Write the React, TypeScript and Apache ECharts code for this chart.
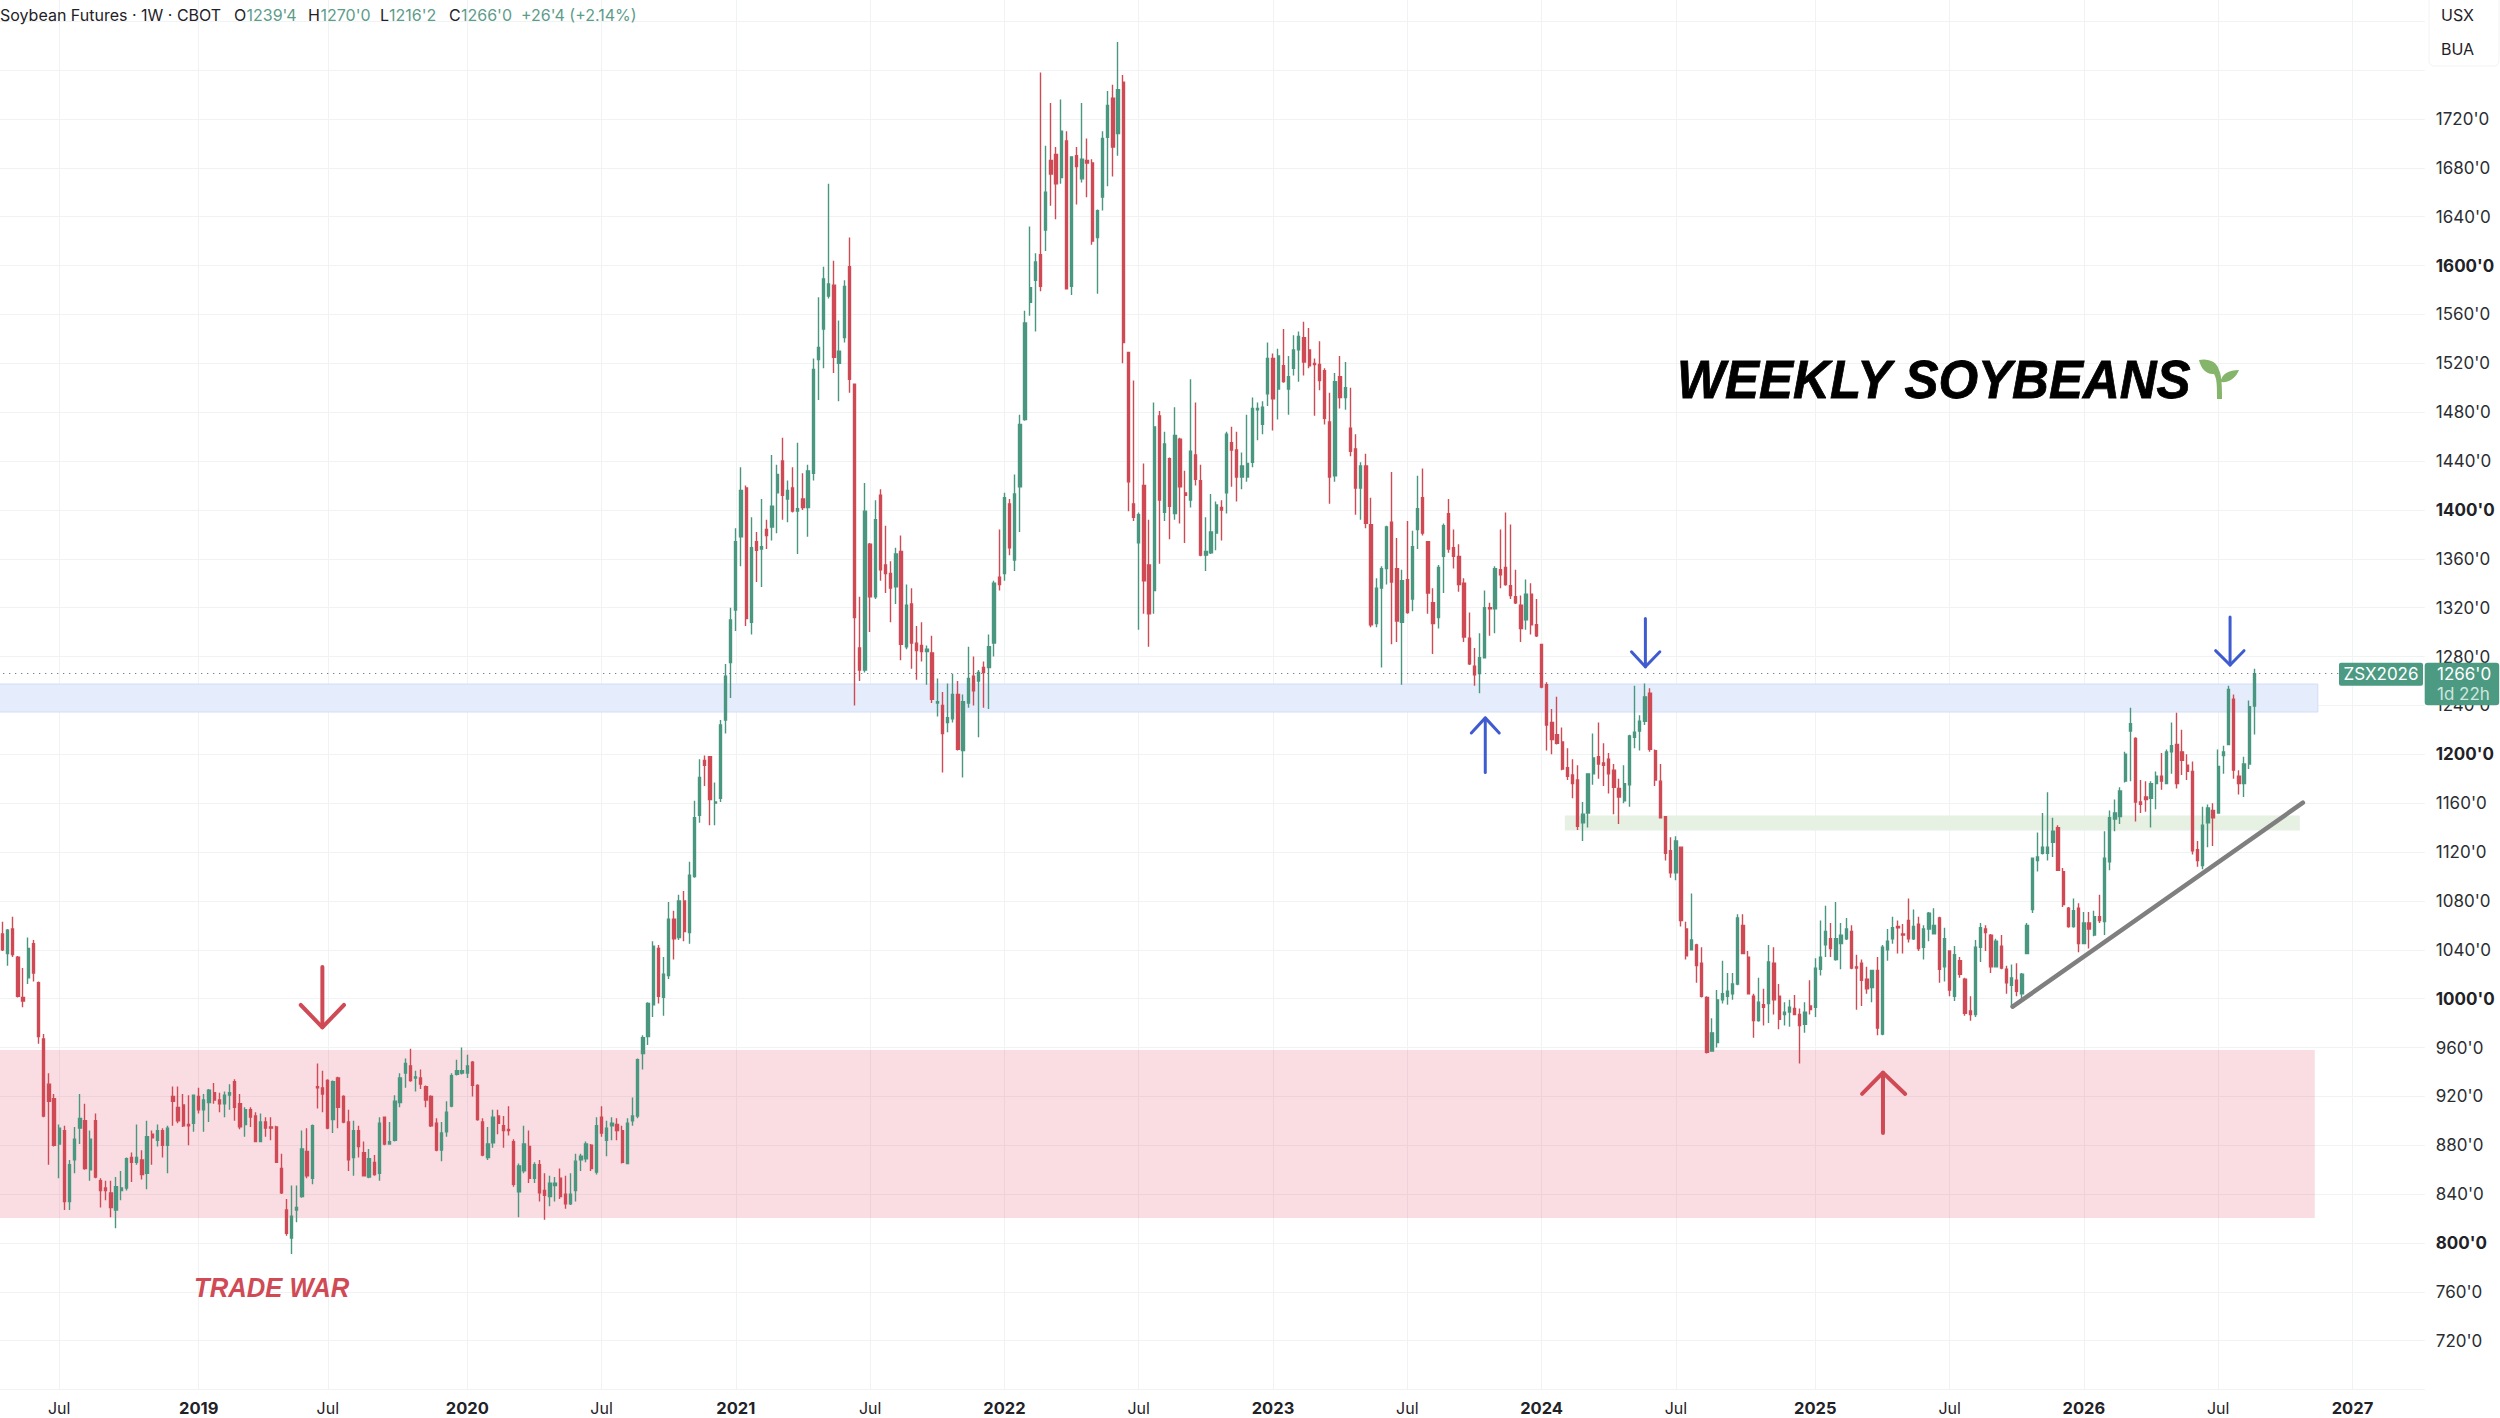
import React, { useEffect, useRef } from "react";
import * as echarts from "echarts";

// every row: [rising?1:0, high, bodyTop, bodyBottom, low]
const bars2018 = [
[0,1063,1053,1040,1039],[1,1057,1056,1037,1027],[0,1067,1057,1036,1034],[0,1035,1034,1002,1001],[0,1025,1001,998,993],
[1,1050,1041,1017,1012],[0,1048,1045,1021,1014],[0,1014,1013,969,963],[0,971,967,904,903],[0,939,930,916,864],
[0,922,918,880,879],[1,897,894,881,853],[0,896,892,834,827],[1,868,864,834,827],[1,895,885,868,857],
[1,922,902,894,881],[0,914,900,861,860],[1,892,885,860,851],[0,906,900,854,853],[0,853,851,843,829],
[0,851,845,843,835],[0,851,841,829,821],[1,854,846,827,812],[1,859,845,843,835],[1,870,869,845,843],
[0,874,870,866,850],[1,897,870,866,864],[0,876,868,856,852],[1,900,887,857,844],[0,892,889,886,864],
[1,897,892,884,879],[0,894,892,880,870],[1,896,894,880,857],[0,928,920,916,896],[0,928,911,900,898],
[0,922,913,896,895],[0,921,897,896,880],[1,921,921,898,891],[0,927,920,909,906],
];
const bars2019 = [
[1,922,917,909,891],[1,926,925,915,899],[0,931,923,917,914],[0,923,917,914,907],[1,924,921,914,903],
[1,930,923,921,909],[0,934,932,911,900],[0,922,914,895,893],[1,911,909,897,887],[0,911,909,903,895],
[0,907,904,883,883],[1,906,899,883,883],[0,903,899,894,887],[0,903,895,894,884],[0,896,895,866,866],
[0,873,861,841,840],[0,836,827,808,806],[1,847,822,804,791],[1,847,829,827,817],[1,892,877,838,837],
[0,894,875,855,853],[1,897,896,853,848],[0,947,928,927,910],[0,941,927,922,907],[0,934,933,894,893],
[1,933,932,901,890],[0,936,935,911,894],[0,921,920,899,898],[0,909,899,868,859],[1,900,892,870,855],
[0,896,892,879,870],[0,883,874,855,855],[1,877,869,854,853],[0,872,866,856,855],[1,903,898,857,851],
[0,903,903,881,880],[1,899,883,881,881],[1,921,916,884,883],[1,939,935,915,911],[1,951,947,939,927],
[0,959,945,933,932],[1,941,936,935,924],[0,942,935,930,926],[0,929,928,917,911],[0,921,920,896,895],
[0,902,898,876,875],[1,899,890,876,867],[1,916,907,891,887],[1,939,937,912,911],[1,950,941,938,937],
[1,960,941,939,938],[1,954,945,939,935],
];
const bars2020 = [
[0,949,948,929,920],[0,930,929,901,900],[0,902,899,872,871],[1,895,881,870,868],[1,909,903,882,878],
[0,909,904,898,889],[0,904,896,892,878],[0,912,893,892,888],[0,885,883,848,846],[1,865,863,842,821],
[1,896,881,859,857],[0,892,879,853,849],[1,866,864,853,849],[0,868,864,841,834],[0,857,843,839,819],
[1,855,849,838,830],[1,854,849,847,834],[0,861,853,838,836],[0,855,840,832,828],[1,857,840,832,831],
[1,873,867,843,834],[1,873,871,868,859],[1,883,881,869,866],[0,881,880,861,859],[1,903,896,858,856],
[0,912,903,890,887],[1,900,894,884,871],[1,903,898,896,884],[0,902,897,892,884],[0,896,892,866,865],
[1,902,898,865,865],[1,919,904,900,896],[1,951,950,904,902],[1,970,968,955,942],[1,997,996,969,962],
[1,1047,1043,995,985],[0,1044,1041,1002,996],[1,1034,1020,1001,986],[1,1079,1065,1019,1016],[0,1072,1065,1049,1032],
[1,1085,1080,1050,1048],[0,1088,1080,1055,1047],[1,1112,1101,1054,1045],[1,1162,1148,1100,1099],[1,1196,1181,1150,1144],
[0,1199,1195,1191,1174],[0,1198,1198,1163,1142],[1,1177,1161,1160,1142],[1,1228,1224,1164,1161],[1,1274,1264,1228,1217],
[1,1320,1310,1275,1246],[1,1385,1374,1318,1301],
];
const bars2021 = [
[1,1435,1416,1378,1354],[0,1420,1418,1311,1305],[1,1394,1369,1308,1298],[0,1382,1374,1367,1341],[1,1409,1370,1368,1337],
[0,1392,1384,1379,1368],[1,1445,1403,1386,1375],[1,1437,1429,1414,1381],[0,1459,1440,1412,1392],[1,1424,1416,1409,1390],
[0,1435,1418,1399,1398],[1,1455,1401,1399,1364],[0,1430,1409,1402,1400],[1,1437,1432,1402,1378],[1,1524,1515,1430,1424],
[1,1574,1533,1523,1490],[1,1599,1589,1548,1516],[1,1667,1585,1575,1573],[0,1604,1584,1525,1512],[1,1555,1530,1520,1489],
[1,1588,1583,1541,1537],[0,1623,1599,1507,1496],[0,1503,1503,1312,1240],[0,1329,1287,1269,1260],[1,1422,1399,1269,1267],
[0,1373,1372,1329,1300],[1,1408,1392,1329,1327],[0,1417,1412,1351,1342],[0,1387,1355,1348,1332],[0,1358,1348,1336,1308],
[1,1369,1364,1337,1323],[0,1379,1366,1290,1277],[1,1339,1322,1288,1286],[0,1336,1323,1291,1270],[0,1305,1291,1285,1261],
[0,1308,1289,1284,1276],[1,1289,1286,1284,1257],[0,1297,1283,1245,1242],[1,1262,1243,1242,1231],[0,1251,1240,1217,1185],
[1,1258,1230,1226,1218],[1,1266,1249,1229,1226],[0,1260,1249,1204,1203],[1,1249,1243,1203,1181],[1,1288,1262,1242,1238],
[0,1280,1264,1252,1240],[1,1269,1267,1260,1214],[0,1276,1271,1267,1238],[1,1298,1288,1271,1237],[1,1342,1340,1291,1280],
[0,1384,1345,1339,1334],[1,1414,1410,1348,1342],
];
const bars2022 = [
[0,1409,1405,1369,1363],[1,1429,1413,1359,1350],[1,1478,1470,1419,1382],[1,1563,1553,1474,1473],[1,1632,1582,1570,1559],
[1,1610,1603,1588,1546],[0,1758,1609,1583,1579],[1,1698,1660,1629,1612],[0,1733,1686,1675,1649],[0,1697,1691,1667,1638],
[1,1736,1710,1672,1667],[0,1710,1702,1581,1581],[1,1689,1689,1583,1576],[0,1697,1690,1681,1650],[1,1733,1687,1671,1668],
[0,1704,1686,1684,1656],[0,1687,1684,1620,1617],[1,1646,1645,1623,1577],[1,1710,1704,1656,1645],[1,1743,1731,1705,1665],
[0,1748,1737,1697,1673],[1,1783,1744,1708,1690],[0,1756,1750,1537,1520],[0,1529,1529,1423,1399],[0,1506,1405,1394,1391],
[1,1398,1396,1373,1302],[0,1438,1420,1342,1315],[0,1392,1355,1315,1288],[1,1488,1468,1334,1315],[0,1481,1477,1408,1356],
[1,1464,1454,1398,1391],[0,1443,1442,1403,1376],[1,1484,1461,1397,1392],[0,1459,1458,1419,1389],[0,1432,1414,1412,1373],
[1,1507,1448,1408,1402],[0,1488,1445,1425,1420],[0,1437,1424,1363,1362],[1,1394,1366,1363,1350],[1,1413,1382,1365,1364],
[1,1407,1404,1381,1367],[0,1408,1402,1400,1375],[1,1464,1462,1414,1397],[0,1468,1455,1449,1419],[0,1464,1449,1427,1407],
[1,1447,1436,1427,1417],[1,1478,1438,1427,1423],[1,1492,1483,1439,1435],[1,1488,1483,1482,1457],[1,1489,1484,1470,1462],
[1,1537,1524,1495,1485],[0,1528,1524,1491,1465],
];
const bars2023 = [
[1,1532,1526,1499,1474],[0,1548,1518,1505,1504],[1,1526,1509,1499,1478],[1,1543,1531,1516,1510],[1,1546,1542,1531,1505],
[0,1554,1541,1521,1510],[0,1549,1531,1518,1516],[0,1524,1520,1519,1477],[0,1538,1519,1506,1498],[0,1516,1514,1475,1470],
[0,1496,1472,1427,1405],[1,1512,1505,1428,1423],[0,1526,1509,1492,1483],[1,1521,1500,1492,1482],[0,1500,1467,1448,1444],
[0,1462,1450,1418,1396],[1,1439,1436,1418,1392],[0,1446,1436,1389,1385],[0,1410,1388,1306,1304],[1,1344,1336,1307,1304],
[1,1354,1352,1336,1271],[1,1387,1386,1352,1339],[0,1431,1390,1341,1290],[0,1377,1352,1309,1292],[1,1351,1342,1308,1257],
[0,1391,1343,1316,1315],[1,1383,1370,1327,1317],[1,1428,1401,1384,1368],[0,1434,1410,1381,1379],[0,1374,1374,1332,1315],
[0,1336,1324,1307,1282],[1,1355,1353,1312,1303],[1,1389,1387,1362,1332],[0,1409,1397,1368,1365],[0,1384,1369,1362,1352],
[0,1372,1362,1339,1333],[0,1344,1340,1296,1292],[0,1316,1295,1274,1273],[0,1287,1272,1265,1256],[1,1299,1279,1266,1250],
[1,1334,1320,1279,1279],[0,1324,1320,1319,1297],[1,1354,1352,1319,1299],[0,1384,1351,1347,1336],[0,1398,1353,1339,1338],
[0,1388,1338,1330,1327],[0,1351,1329,1324,1323],[0,1330,1322,1303,1292],[1,1343,1331,1310,1302],[0,1340,1331,1306,1298],
[0,1327,1306,1297,1296],[0,1290,1290,1255,1254],
];
const bars2024 = [
[0,1259,1257,1224,1203],[0,1237,1226,1212,1200],[0,1247,1216,1209,1208],[0,1222,1210,1188,1187],[0,1205,1189,1182,1179],
[0,1196,1183,1176,1164],[0,1191,1179,1141,1138],[1,1161,1151,1144,1129],[1,1184,1184,1152,1140],[1,1217,1197,1184,1175],
[0,1226,1198,1192,1180],[0,1209,1193,1191,1174],[0,1201,1196,1184,1168],[0,1192,1187,1173,1151],[0,1180,1172,1165,1143],
[1,1191,1176,1162,1160],[1,1216,1215,1175,1157],[1,1256,1218,1214,1205],[1,1232,1227,1219,1203],[1,1258,1247,1227,1224],
[0,1254,1250,1204,1202],[0,1204,1203,1179,1174],[0,1192,1178,1148,1148],[0,1149,1149,1119,1113],[0,1132,1121,1103,1099],
[1,1133,1129,1103,1097],[0,1124,1124,1064,1059],[0,1063,1057,1035,1032],[1,1086,1048,1040,1040],[0,1045,1044,1027,1013],
[0,1042,1029,1002,1001],[0,1002,1001,956,955],[1,984,972,957,957],[1,1007,999,964,960],[1,1031,1004,999,996],
[1,1021,1006,1002,995],[1,1021,1012,1004,999],[1,1069,1066,1012,1011],[0,1069,1060,1037,1037],[0,1039,1034,1004,1004],
[0,1004,1002,982,968],[1,1017,997,982,981],[0,1008,995,993,978],[1,1044,1030,996,980],[0,1042,1029,999,987],
[0,1012,1002,983,975],[1,997,989,987,978],[1,999,993,989,977],[0,1003,992,987,987],[0,992,987,978,947],
[1,997,989,979,972],[0,1015,994,991,987],[1,1033,1025,993,985],
];
const bars2025 = [
[1,1064,1034,1024,1019],[1,1076,1055,1044,1034],[0,1062,1049,1041,1034],[1,1079,1049,1032,1031],[1,1062,1052,1045,1024],
[1,1066,1057,1049,1048],[0,1060,1055,1025,1024],[0,1036,1026,1025,991],[0,1032,1029,1015,994],[0,1026,1016,1008,1004],
[1,1023,1023,1009,997],[0,1034,1023,976,970],[1,1044,1042,971,970],[1,1057,1047,1040,1031],[1,1067,1058,1049,1045],
[0,1064,1059,1058,1037],[0,1061,1053,1052,1037],[0,1082,1064,1049,1046],[1,1073,1059,1049,1048],[0,1067,1061,1041,1039],
[1,1060,1057,1042,1032],[1,1071,1070,1057,1047],[1,1074,1060,1053,1053],[0,1067,1066,1024,1013],[1,1058,1049,1026,1014],
[0,1039,1039,1007,1002],[1,1043,1036,1002,998],[0,1034,1031,1020,1017],[0,1017,1016,988,986],[0,1002,990,987,982],
[1,1048,1042,987,985],[1,1062,1058,1042,1030],[0,1060,1057,1054,1039],[0,1053,1052,1026,1021],[1,1049,1047,1026,1026],
[0,1052,1043,1025,1024],[0,1027,1024,1013,1004],[1,1028,1017,1011,993],[0,1029,1015,1006,1002],[1,1021,1020,1004,999],
[1,1062,1060,1037,1037],[1,1115,1115,1073,1070],[1,1136,1116,1113,1104],[1,1152,1124,1119,1118],[1,1169,1124,1119,1113],
[1,1148,1137,1128,1116],[0,1142,1140,1105,1105],[0,1107,1104,1077,1075],[0,1075,1074,1059,1058],[1,1082,1072,1059,1058],
[0,1078,1074,1045,1038],[1,1071,1062,1045,1045],
];
const bars2026 = [
[0,1071,1062,1057,1041],[1,1072,1067,1052,1051],[0,1085,1067,1064,1062],[1,1137,1115,1063,1052],[1,1154,1148,1112,1105],
[1,1163,1152,1147,1137],[1,1173,1170,1149,1143],[1,1202,1200,1178,1177],[1,1238,1225,1219,1178],[0,1214,1213,1161,1145],
[0,1179,1161,1159,1152],[0,1178,1165,1163,1153],[1,1178,1176,1164,1140],[1,1186,1182,1176,1155],[0,1201,1182,1178,1171],
[1,1204,1202,1176,1176],[1,1226,1207,1202,1184],[0,1234,1208,1176,1172],[0,1220,1202,1195,1183],[0,1200,1191,1186,1179],
[0,1194,1186,1121,1118],[0,1129,1122,1113,1108],[1,1157,1142,1109,1106],[1,1159,1156,1144,1124],[0,1160,1154,1148,1125],
[1,1204,1190,1152,1152],[1,1207,1202,1199,1184],[1,1256,1253,1208,1208],[0,1249,1245,1187,1180],[0,1187,1182,1176,1167],
[1,1198,1192,1176,1165],[1,1244,1239,1192,1188],[1,1270,1266,1239.5,1216.25],
];

const tickIndex = [12, 39, 64, 91, 117, 143, 169, 195, 221, 247, 273, 299, 325, 352, 378, 404, 430, 456];
const tickLabels = ["Jul", "2019", "Jul", "2020", "Jul", "2021", "Jul", "2022", "Jul", "2023", "Jul", "2024", "Jul", "2025", "Jul", "2026", "Jul", "2027"];
const boldPrices = [800, 1000, 1200, 1400, 1600];
const hiddenPrices = [680, 1760, 1800, 1820];
const lastPrice = 1266;

// [fromIndex, toIndex, topPrice, bottomPrice]
const pinkZone = [0, 448.7, 957.9, 820.4];
const blueZone = [0, 449.3, 1257.5, 1234.6];
const greenZone = [303.5, 445.8, 1149.8, 1137.6];
// [index, price] pairs: shaft start, tip, head left, head right
const arrowRedDown = [[62.95, 1025.9], [62.95, 976.5], [58.77, 994.8], [67.13, 994.8]];
const arrowRedUp = [[365.1, 890], [365.1, 939.4], [361.05, 922], [369.4, 922]];
const arrowBlueUp = [[288.1, 1185.1], [288.1, 1229.8], [285.4, 1217.4], [290.8, 1217.4]];
const arrowBlueDownA = [[319.1, 1311.1], [319.1, 1271.6], [316.4, 1283.9], [321.9, 1283.9]];
const arrowBlueDownB = [[432.3, 1312.4], [432.3, 1273.1], [429.5, 1284.8], [435, 1284.8]];
const trendLine = [[390.2, 993.4], [446.4, 1160.4]];

const UP = "#4a9780";
const DOWN = "#cf4a55";
const PINK = "rgba(226,84,112,0.2)";
const BLUE = "#3f5bd0";
const SANS = "Inter, 'Noto Sans', sans-serif";

echarts.graphic.registerShape(
  "sprout",
  echarts.graphic.extendPath(
    "M0 1 C8 -1 18 2 20 11 C22 15 23 22 23 40 L18 40 C18 26 18 20 15 15 C8 16 2 10 0 1 Z M22 23 C22 15 30 11 40 11 C37 19 30 24 22 23 Z",
    {}
  )
);

const PX_PER_WEEK = 5.165;
const AXIS_SPAN = 470;
const GRID_LEFT = -2.76;
const GRID_TOP = -3.2;
const GRID_H = 1392.8;

function App() {
  const ref = useRef<HTMLDivElement>(null);
  useEffect(() => {
    document.body.style.margin = "0";
    const chart = echarts.init(ref.current!, undefined, { renderer: "svg" });
    const rows = [...bars2018, ...bars2019, ...bars2020, ...bars2021, ...bars2022, ...bars2023, ...bars2024, ...bars2025, ...bars2026];
    const candles: any[] = [["-", "-", "-", "-"]];
    rows.forEach(([up, h, t, b, l]) => candles.push(up ? [b, t, l, h] : [t, b, l, h]));
    const categories = Array.from({ length: AXIS_SPAN + 1 }, (_, i) => String(i));
    const tickFn = (i: number) => tickIndex.includes(i);

    const zones = [
      { z: pinkZone, fill: PINK },
      { z: blueZone, fill: "#e5edfc", stroke: "#d3ddf8" },
      { z: greenZone, fill: "#e6f0e3" },
    ];
    const arrows = [
      { p: arrowRedDown, c: DOWN, w: 4 },
      { p: arrowRedUp, c: DOWN, w: 4 },
      { p: arrowBlueUp, c: BLUE, w: 3 },
      { p: arrowBlueDownA, c: BLUE, w: 3 },
      { p: arrowBlueDownB, c: BLUE, w: 3 },
    ];
    const headerBits: [string, number, string][] = [
      ["Soybean Futures · 1W · CBOT", 0, "#1f2227"],
      ["O", 234, "#1f2227"],
      ["1239'4", 246.5, "#5d9c89"],
      ["H", 308, "#1f2227"],
      ["1270'0", 320.5, "#5d9c89"],
      ["L", 380, "#1f2227"],
      ["1216'2", 389, "#5d9c89"],
      ["C", 449, "#1f2227"],
      ["1266'0", 461, "#5d9c89"],
      ["+26'4 (+2.14%)", 521, "#5d9c89"],
    ];

    chart.setOption({
      animation: false,
      backgroundColor: "#ffffff",
      grid: { left: GRID_LEFT, top: GRID_TOP, width: PX_PER_WEEK * AXIS_SPAN, height: GRID_H, outerBoundsMode: "none", containLabel: false },
      xAxis: [
        {
          type: "category",
          data: categories,
          boundaryGap: false,
          axisLine: { show: false },
          axisTick: { show: false },
          splitLine: { show: true, interval: tickFn, lineStyle: { color: "#f1f2f4", width: 1 } },
          axisLabel: {
            interval: tickFn,
            margin: 10,
            color: "#1f2227",
            fontFamily: SANS,
            fontSize: 16,
            formatter: (v: string) => {
              const k = tickIndex.indexOf(Number(v));
              if (k < 0) return "";
              return tickLabels[k] === "Jul" ? "Jul" : `{b|${tickLabels[k]}}`;
            },
            rich: { b: { fontFamily: SANS, fontSize: 16.5, fontWeight: "bold", color: "#1f2227" } },
          },
        },
        { type: "value", min: 0, max: AXIS_SPAN, show: false },
      ],
      yAxis: {
        type: "value",
        min: 680,
        max: 1820,
        interval: 40,
        position: "right",
        axisLine: { show: false },
        axisTick: { show: false },
        splitLine: { show: true, lineStyle: { color: "#f1f2f4", width: 1 } },
        axisLabel: {
          margin: 11,
          color: "#2a2e33",
          fontFamily: SANS,
          fontSize: 17,
          formatter: (v: number) => {
            if (hiddenPrices.includes(v)) return "";
            return boldPrices.includes(v) ? `{b|${v}'0}` : `${v}'0`;
          },
          rich: { b: { fontFamily: SANS, fontSize: 17, fontWeight: "bold", color: "#1f2227" } },
        },
      },
      series: [
        {
          type: "custom",
          xAxisIndex: 1,
          yAxisIndex: 0,
          z: 1,
          silent: true,
          data: zones.map((_, i) => [i]),
          renderItem: (params: any, api: any) => {
            const { z, fill, stroke } = zones[params.dataIndex] as any;
            const a = api.coord([z[0], z[2]]);
            const b = api.coord([z[1], z[3]]);
            return {
              type: "rect",
              shape: { x: a[0], y: a[1], width: b[0] - a[0], height: b[1] - a[1] },
              style: { fill, stroke: stroke || "none", lineWidth: 1 },
            };
          },
        },
        {
          type: "candlestick",
          xAxisIndex: 0,
          yAxisIndex: 0,
          z: 2,
          silent: true,
          barWidth: 2.8,
          data: candles,
          itemStyle: { color: UP, color0: DOWN, borderColor: UP, borderColor0: DOWN, borderWidth: 1.4 },
          markLine: {
            silent: true,
            symbol: ["none", "none"],
            label: { show: false },
            lineStyle: { color: "#555a60", width: 1, type: [1, 5] },
            data: [{ yAxis: lastPrice }],
          },
        },
        {
          type: "custom",
          xAxisIndex: 1,
          yAxisIndex: 0,
          z: 3,
          silent: true,
          data: arrows.map((_, i) => [i]),
          renderItem: (params: any, api: any) => {
            const { p, c, w } = arrows[params.dataIndex];
            const q = p.map((v) => api.coord(v));
            const style = { stroke: c, lineWidth: w, fill: "none", lineCap: "round", lineJoin: "round" };
            return {
              type: "group",
              children: [
                { type: "polyline", shape: { points: [q[0], q[1]] }, style },
                { type: "polyline", shape: { points: [q[2], q[1], q[3]] }, style },
              ],
            };
          },
        },
        {
          type: "custom",
          xAxisIndex: 1,
          yAxisIndex: 0,
          z: 3,
          silent: true,
          data: [[0]],
          renderItem: (_: any, api: any) => ({
            type: "polyline",
            shape: { points: trendLine.map((v) => api.coord(v)) },
            style: { stroke: "#7f7f7f", lineWidth: 4.5, fill: "none", lineCap: "round" },
          }),
        },
      ],
      graphic: [
        ...headerBits.map(([text, x, fill]) => ({
          type: "text",
          x,
          y: 15,
          z: 50,
          style: { text, fill, font: `16px ${SANS}`, textVerticalAlign: "middle" },
        })),
        {
          type: "text",
          x: 1677,
          y: 379,
          z: 50,
          scaleX: 0.944,
          style: { text: "WEEKLY SOYBEANS", fill: "#000", stroke: "#000", lineWidth: 0.8, font: "italic bold 54px 'Liberation Sans'", textVerticalAlign: "middle" },
        },
        { type: "sprout", x: 2199, y: 359, z: 50, style: { fill: "#84b56a" } },
        {
          type: "text",
          x: 194,
          y: 1288,
          z: 50,
          scaleX: 0.95,
          style: { text: "TRADE WAR", fill: DOWN, font: "italic bold 27px 'Liberation Sans'", textVerticalAlign: "middle" },
        },
        {
          type: "rect",
          z: 60,
          shape: { x: 2429, y: -6, width: 70, height: 72, r: 5 },
          style: { fill: "#fff", stroke: "#f3f3f4", lineWidth: 1 },
        },
        { type: "text", x: 2441, y: 15, z: 61, style: { text: "USX", fill: "#1f2227", font: `16px ${SANS}`, textVerticalAlign: "middle" } },
        { type: "text", x: 2441, y: 49, z: 61, style: { text: "BUA", fill: "#1f2227", font: `16px ${SANS}`, textVerticalAlign: "middle" } },
        {
          type: "rect",
          z: 60,
          shape: { x: 2339, y: 662.7, width: 84, height: 23, r: 2 },
          style: { fill: "#4c9a82" },
        },
        {
          type: "rect",
          z: 60,
          shape: { x: 2424.7, y: 662.7, width: 74.5, height: 42.5, r: 3 },
          style: { fill: "#4c9a82" },
        },
        { type: "text", x: 2381, y: 674, z: 61, style: { text: "ZSX2026", fill: "#fff", font: `17px ${SANS}`, textAlign: "center", textVerticalAlign: "middle" } },
        { type: "text", x: 2437, y: 674, z: 61, style: { text: "1266'0", fill: "#fff", font: `17px ${SANS}`, textVerticalAlign: "middle" } },
        { type: "text", x: 2437, y: 693.5, z: 61, style: { text: "1d 22h", fill: "#cfe6de", font: `17px ${SANS}`, textVerticalAlign: "middle" } },
      ],
    });
    return () => chart.dispose();
  }, []);
  return <div ref={ref} style={{ position: "absolute", left: 0, top: 0, width: 2500, height: 1418 }} />;
}

export default App;
